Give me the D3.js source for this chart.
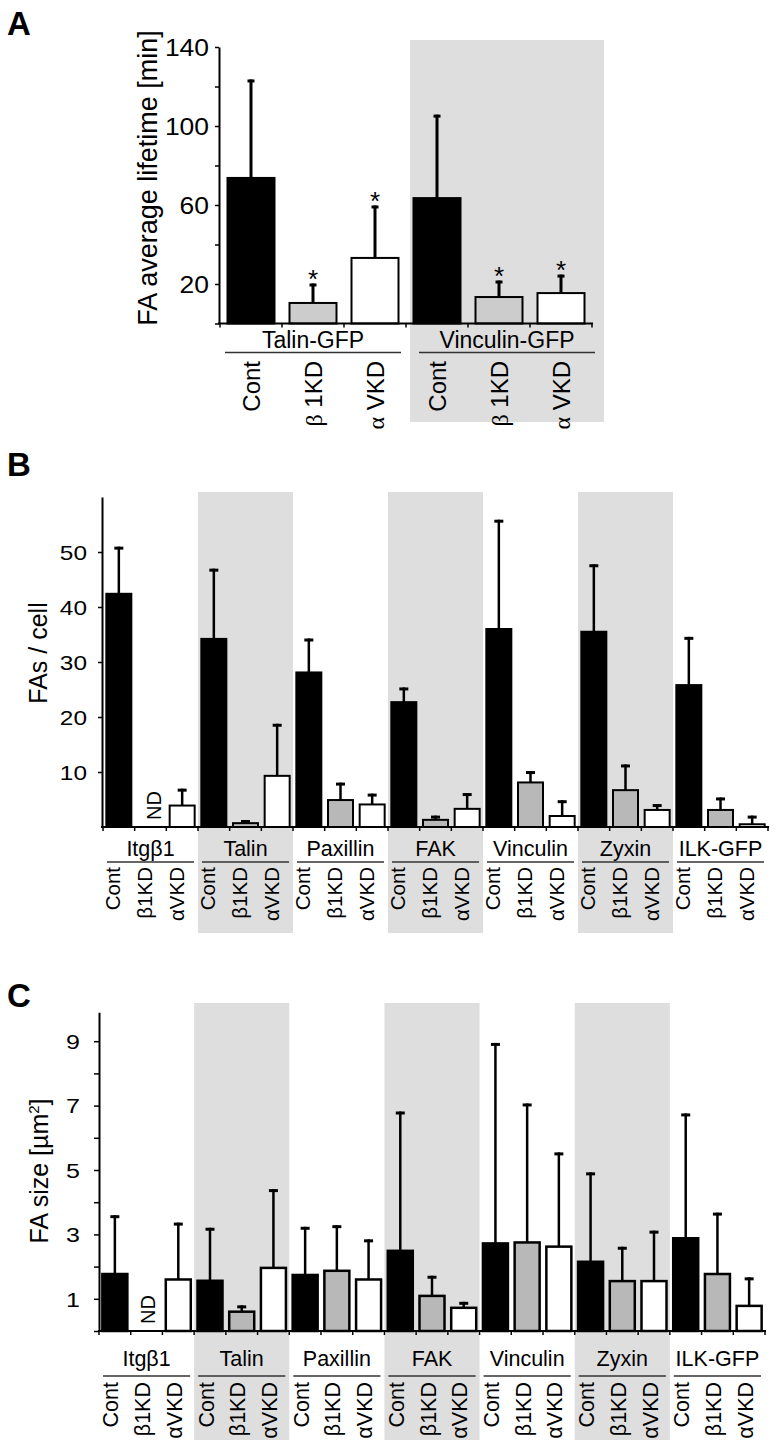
<!DOCTYPE html>
<html><head><meta charset="utf-8">
<script src="https://cdn.jsdelivr.net/npm/d3@7"></script>
<style>body{margin:0;background:#fff}svg{display:block}</style>
</head><body>
<svg id="c" width="782" height="1448"></svg>
<script>
// ---------- DATA ----------
// Panel A
const aGroups = ["Talin-GFP", "Vinculin-GFP"];
const aConds = [["β", " 1KD"], ["α", " VKD"]];
const aMean = [73.7, 10.4, 33.2, 63.5, 13.4, 15.4];
const aErrTop = [122.8, 19.5, 59.0, 105.0, 21.0, 24.0];
const aStar = [false, true, true, false, true, true];
const aTicks = [0, 20, 40, 60, 80, 100, 120, 140];
const aTickLabels = [20, 60, 100, 140];

// Panels B and C share groups
const groups = ["Itgβ1", "Talin", "Paxillin", "FAK", "Vinculin", "Zyxin", "ILK-GFP"];
const conds = ["Cont", "β1KD", "αVKD"];
const shadedGroups = [1, 3, 5];

// Panel B: FAs / cell  (null = ND)
const bMean = [42.4, null, 3.9,  34.2, 0.7, 9.3,  28.1, 4.9, 4.1,  22.7, 1.3, 3.3,
               36.0, 8.1, 2.0,  35.5, 6.7, 3.1,  25.8, 3.1, 0.5];
const bErrTop = [50.7, null, 6.7,  46.7, 1.0, 18.5,  34.0, 7.8, 5.8,  25.1, 1.8, 5.9,
                 55.6, 9.9, 4.6,  47.5, 11.1, 3.9,  34.3, 5.1, 1.8];
const bTicks = [10, 20, 30, 40, 50];

// Panel C: FA size [µm²]
const cMean = [1.77, null, 1.60,  1.56, 0.60, 1.96,  1.74, 1.87, 1.60,  2.49, 1.09, 0.72,
               2.72, 2.75, 2.62,  2.15, 1.55, 1.55,  2.88, 1.77, 0.78];
const cErrTop = [3.55, null, 3.32,  3.16, 0.75, 4.36,  3.19, 3.24, 2.80,  6.77, 1.67, 0.86,
                 8.90, 7.02, 5.50,  4.88, 2.57, 3.07,  6.71, 3.63, 1.62];
const cTicks = [0, 1, 2, 3, 4, 5, 6, 7, 8, 9];
const cTickLabels = [1, 3, 5, 7, 9];

// ---------- DRAWING ----------
const FONT = "'Liberation Sans', Arial, Helvetica, sans-serif";
const SERIF = "'Liberation Serif', 'Times New Roman', serif";
const svg = d3.select("#c");
const BG = "#dedede";

function addText(g, parts, x, y, o) {
  let tr = `translate(${x},${y})`;
  if (o.sx) tr += ` scale(${o.sx},1)`;
  if (o.rot) tr += " rotate(-90)";
  const t = g.append("text").attr("transform", tr)
    .attr("font-family", FONT).attr("font-size", o.size)
    .attr("text-anchor", o.anchor || "middle").attr("fill", "#000");
  if (o.weight) t.attr("font-weight", o.weight);
  if (typeof parts === "string") parts = [[parts]];
  parts.forEach(p => {
    const ts = t.append("tspan").text(p[0]);
    if (p[1]) ts.attr("font-family", p[1]);
    if (p[2]) ts.attr("font-size", p[2]);
    if (p[3] !== undefined) ts.attr("dy", p[3]);
  });
  return t;
}

function drawPanel(p) {
  const g = svg.append("g");
  const n = p.means.length;
  const x = d3.scaleBand().domain(d3.range(n)).range([p.x0, p.x1]).padding(0);
  const y = d3.scaleLinear().domain([0, p.yMax]).range([p.yZero, p.yZero - p.ppu * p.yMax]);
  const bw = x.bandwidth();

  // shaded group backgrounds
  p.shaded.forEach((gi, k) => {
    const off = p.bgOff[k] || [0, 0];
    const xs = x(gi * 3) + off[0], xe = x(gi * 3 + 2) + bw + off[1];
    g.append("rect").attr("x", xs).attr("y", p.bgTop).attr("width", xe - xs)
      .attr("height", p.bgBottom - p.bgTop).attr("fill", BG);
  });

  // bars
  const idx = d3.range(n).filter(i => p.means[i] !== null);
  g.selectAll("rect.bar").data(idx).join("rect").attr("class", "bar")
    .attr("x", i => x(i) + (bw - p.barW) / 2)
    .attr("y", i => y(p.means[i]))
    .attr("width", p.barW)
    .attr("height", i => y(0) - y(p.means[i]))
    .attr("fill", i => p.fills[i % 3])
    .attr("stroke", "#000").attr("stroke-width", p.barStroke);

  // error bars
  g.selectAll("line.err").data(idx).join("line").attr("class", "err")
    .attr("x1", i => x(i) + bw / 2).attr("x2", i => x(i) + bw / 2)
    .attr("y1", i => y(p.means[i])).attr("y2", i => y(p.errTop[i]) - p.capH / 2)
    .attr("stroke", "#000").attr("stroke-width", p.errW);
  g.selectAll("line.cap").data(idx).join("line").attr("class", "cap")
    .attr("x1", i => x(i) + bw / 2 - p.capW / 2).attr("x2", i => x(i) + bw / 2 + p.capW / 2)
    .attr("y1", i => y(p.errTop[i])).attr("y2", i => y(p.errTop[i]))
    .attr("stroke", "#000").attr("stroke-width", p.capH);

  // significance stars
  if (p.stars) {
    idx.filter(i => p.stars[i]).forEach(i => {
      addText(g, "*", x(i) + bw / 2, y(p.errTop[i]) + 3, {size: p.starSize});
    });
  }

  // ND labels
  d3.range(n).filter(i => p.means[i] === null).forEach(i => {
    addText(g, "ND", x(i) + bw / 2 + p.ndDx, p.ndY, {size: p.ndSize, rot: true, anchor: "start"});
  });

  // y axis
  const ax = d3.axisLeft(y).tickValues(p.ticks).tickSize(p.tickLen).tickSizeOuter(0)
    .tickPadding(p.tickPad).tickFormat(d => p.tickLabels.includes(d) ? d : "");
  const ya = g.append("g").attr("transform", `translate(${p.axisX},0)`).call(ax);
  ya.select(".domain").attr("stroke", "#000").attr("stroke-width", 2);
  ya.selectAll(".tick line").attr("stroke", "#000").attr("stroke-width", 1.5);
  ya.selectAll(".tick text").attr("font-family", FONT).attr("font-size", p.tickSize)
    .attr("fill", "#000").attr("dy", "0.36em")
    .attr("transform", `scale(${p.tickSx},1)`)
    .attr("x", -(p.tickLen + p.tickPad) / p.tickSx);

  // x axis
  g.append("line").attr("x1", p.axisX - 1).attr("x2", p.x1 + 1)
    .attr("y1", y(0)).attr("y2", y(0)).attr("stroke", "#000").attr("stroke-width", 2);
  g.selectAll("line.xt").data(d3.range(n + 1)).join("line").attr("class", "xt")
    .attr("x1", i => p.x0 + i * x.step()).attr("x2", i => p.x0 + i * x.step())
    .attr("y1", y(0)).attr("y2", y(0) + 4).attr("stroke", "#000").attr("stroke-width", 1.5);

  // condition labels (rotated)
  d3.range(n).forEach(i => {
    addText(g, p.condLabel(i % 3), x(i) + bw / 2 + p.condDx, p.condTop,
      {size: p.condSize, rot: true, anchor: "end"});
  });

  // group labels + underlines
  p.groups.forEach((name, gi) => {
    const sh = p.groupShift ? p.groupShift[gi] : 0;
    const gs = x(gi * 3), ge = x(gi * 3 + 2) + bw;
    addText(g, name, (gs + ge) / 2 + sh, p.groupY, {size: p.groupSize});
    g.append("line").attr("x1", gs + p.ulInset + sh).attr("x2", ge - p.ulInset + sh)
      .attr("y1", p.ulY).attr("y2", p.ulY).attr("stroke", "#333").attr("stroke-width", 1.5);
  });

  // y label
  addText(g, p.yLabel, p.yLabelX, p.yLabelY, {size: p.yLabelSize, rot: true});
  // panel letter
  addText(g, p.letter, 7, p.letterY, {size: 33, weight: "bold", anchor: "start"});
  return {x, y};
}

// Panel A
drawPanel({
  letter: "A", letterY: 35,
  means: aMean, errTop: aErrTop, stars: aStar, starSize: 26,
  x0: 220, x1: 592, axisX: 219, yZero: 323.5, ppu: 79 / 40, yMax: 140,
  ticks: aTicks, tickLabels: aTickLabels, tickLen: 4, tickPad: 6, tickSize: 23, tickSx: 1.15,
  shaded: [1], bgOff: [[4, 12]], bgTop: 40, bgBottom: 422,
  fills: ["#000", "#cccccc", "#fff"], barW: 47, barStroke: 2,
  errW: 3, capW: 7, capH: 3,
  condLabel: k => k === 0 ? "Cont" : [[aConds[k - 1][0], SERIF], [aConds[k - 1][1]]],
  condDx: 8.5, condTop: 361, condSize: 24,
  groups: aGroups, groupShift: [0, 8], groupY: 348, groupSize: 23, ulY: 352.5, ulInset: 5,
  yLabel: "FA average lifetime [min]", yLabelX: 157, yLabelY: 178, yLabelSize: 27,
  ndDx: 0, ndY: 0, ndSize: 18
});

// Panel B
drawPanel({
  letter: "B", letterY: 476,
  means: bMean, errTop: bErrTop,
  x0: 103, x1: 768, axisX: 102, yZero: 827, ppu: 5.5, yMax: 60,
  ticks: bTicks, tickLabels: bTicks, tickLen: 4, tickPad: 11, tickSize: 20, tickSx: 1.22,
  shaded: shadedGroups, bgOff: [], bgTop: 492, bgBottom: 933,
  fills: ["#000", "#b8b8b8", "#fff"], barW: 25, barStroke: 2,
  errW: 2.5, capW: 9, capH: 3,
  condLabel: k => conds[k], condDx: 1.5, condTop: 867, condSize: 20.5,
  groups: groups, groupY: 856, groupSize: 21.5, ulY: 862, ulInset: 4,
  yLabel: "FAs / cell", yLabelX: 47, yLabelY: 653, yLabelSize: 25,
  ndDx: 10, ndY: 820, ndSize: 20
});

// Panel C
drawPanel({
  letter: "C", letterY: 1007,
  means: cMean, errTop: cErrTop,
  x0: 99, x1: 765, axisX: 99, yZero: 1331, ppu: 32.2, yMax: 9.9,
  ticks: cTicks, tickLabels: cTickLabels, tickLen: 5, tickPad: 14, tickSize: 20, tickSx: 1.25,
  shaded: shadedGroups, bgOff: [], bgTop: 1003, bgBottom: 1440,
  fills: ["#000", "#b8b8b8", "#fff"], barW: 25, barStroke: 2.5,
  errW: 2.5, capW: 9, capH: 3,
  condLabel: k => conds[k], condDx: 3.5, condTop: 1382, condSize: 21.5,
  groups: groups, groupY: 1366, groupSize: 21.5, ulY: 1376, ulInset: 4,
  yLabel: [["FA size [µm"], ["2", null, 15, "-9"], ["]", null, null, "9"]],
  yLabelX: 48, yLabelY: 1171, yLabelSize: 25,
  ndDx: 8, ndY: 1324, ndSize: 20
});
</script>
</body></html>
